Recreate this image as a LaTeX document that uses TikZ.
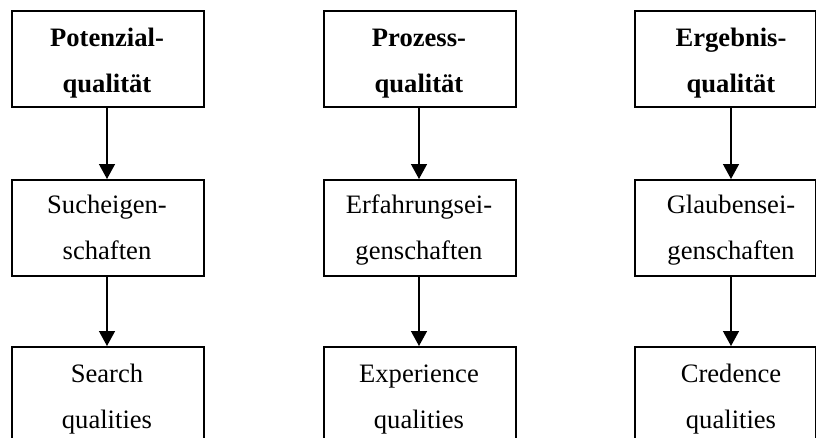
\documentclass[tikz,border=0pt]{standalone}
\usepackage{fontspec}
\setmainfont{Liberation Serif}
\usetikzlibrary{arrows.meta}

\tikzset{
  box/.style={draw=black, line width=1.6pt, minimum height=96pt, inner sep=0pt, anchor=north west},
  txt/.style={anchor=base, inner sep=0pt, font=\fontsize{26.6}{30}\selectfont},
  head/.style={txt, font=\fontsize{26.6}{30}\selectfont\bfseries},
  arr/.style={line width=1.4pt, -{Triangle[width=16pt,length=15pt]}}
}

\begin{document}
\begin{tikzpicture}[x=1pt, y=-1pt]
  \useasboundingbox (0,0) rectangle (816,437);
  \clip (0,0) rectangle (816,437);

  % column 1
  \node[box, minimum width=192pt] (b1a) at (11,10) {};
  \node[box, minimum width=192pt] (b1b) at (11,179) {};
  \node[box, minimum width=192pt] (b1c) at (11,346) {};
  \node[head] (t1a) at (107,46) {Potenzial-};
  \node[head] (t1b) at (107,92) {qualität};
  \node[txt] (t1c) at (107,213) {Sucheigen-};
  \node[txt] (t1d) at (107,259) {schaften};
  \node[txt] (t1e) at (107,382) {Search};
  \node[txt] (t1f) at (107,428) {qualities};

  % column 2
  \node[box, minimum width=192pt] (b2a) at (323,10) {};
  \node[box, minimum width=192pt] (b2b) at (323,179) {};
  \node[box, minimum width=192pt] (b2c) at (323,346) {};
  \node[head] (t2a) at (419,46) {Prozess-};
  \node[head] (t2b) at (419,92) {qualität};
  \node[txt] (t2c) at (419,213) {Erfahrungsei-};
  \node[txt] (t2d) at (419,259) {genschaften};
  \node[txt] (t2e) at (419,382) {Experience};
  \node[txt] (t2f) at (419,428) {qualities};

  % column 3
  \node[box, minimum width=181pt] (b3a) at (634,10) {};
  \node[box, minimum width=181pt] (b3b) at (634,179) {};
  \node[box, minimum width=181pt] (b3c) at (634,346) {};
  \node[head] (t3a) at (731,46) {Ergebnis-};
  \node[head] (t3b) at (731,92) {qualität};
  \node[txt] (t3c) at (731,213) {Glaubensei-};
  \node[txt] (t3d) at (731,259) {genschaften};
  \node[txt] (t3e) at (731,382) {Credence};
  \node[txt] (t3f) at (731,428) {qualities};

  % connectors
  \foreach \c in {1,2,3}{
    \draw[arr] (b\c a.south -| t\c a.base) -- (b\c b.north -| t\c a.base);
    \draw[arr] (b\c b.south -| t\c a.base) -- (b\c c.north -| t\c a.base);
  }
\end{tikzpicture}
\end{document}
